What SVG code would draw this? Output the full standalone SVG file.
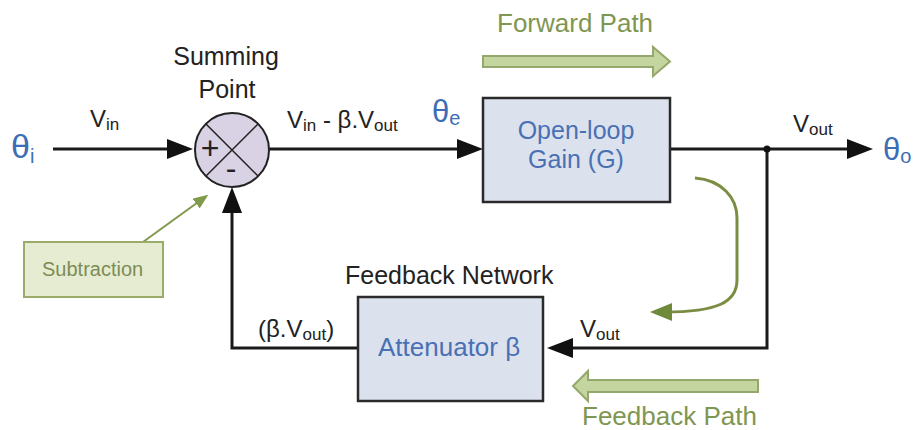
<svg xmlns="http://www.w3.org/2000/svg" width="919" height="430" viewBox="0 0 919 430">
<style>
text{font-family:"Liberation Sans",Arial,sans-serif}
.lbl{fill:#222;font-size:24px}
.sub{font-size:17px}
.theta{fill:#3d6db5;font-size:34px}
.node{fill:#4a70b4;font-size:25px}
.wire{fill:none;stroke:#1a1a1a;stroke-width:3}
.box{fill:#dbe2ee;stroke:#2a2a2a;stroke-width:2.5}
.green{fill:#7f9650;font-size:26px}
.bigarrow{fill:#c4d59f;stroke:#93a86a;stroke-width:2}
</style>
<defs>
<marker id="ah" markerUnits="userSpaceOnUse" markerWidth="27" markerHeight="21" refX="12" refY="10" orient="auto">
<path d="M0,0 L26,10 L0,20 z" fill="#111"/>
</marker>
<marker id="gh" markerUnits="userSpaceOnUse" markerWidth="16" markerHeight="14" refX="6" refY="6" orient="auto">
<path d="M0,0 L15,6 L0,12 z" fill="#7f9a4a"/>
</marker>
<marker id="ch" markerUnits="userSpaceOnUse" markerWidth="24" markerHeight="20" refX="8" refY="9" orient="auto">
<path d="M0,0 L22,9 L0,18 z" fill="#6f8a3a"/>
</marker>
</defs>

<g id="connectors">
<path class="wire" d="M53,149 L179,149" marker-end="url(#ah)"/>
<path class="wire" d="M269,149 L469,149" marker-end="url(#ah)"/>
<path class="wire" d="M670,149 L859,149" marker-end="url(#ah)"/>
<path class="wire" d="M767,149 L767,348 L561,348" marker-end="url(#ah)"/>
<path class="wire" d="M358,348 L232,348 L232,201" marker-end="url(#ah)"/>
<circle cx="767" cy="149" r="3.5" fill="#111"/>
<path d="M143,242 L201,200" fill="none" stroke="#7f9a4a" stroke-width="2" marker-end="url(#gh)"/>
<path d="M695,178 C722,180 737,198 737,218 L737,280 C737,302 718,312 664,312" fill="none" stroke="#7a8d42" stroke-width="3" marker-end="url(#ch)"/>
</g>

<g id="theta-i"><text class="theta" x="11" y="158">θ<tspan style="font-size:20px" dy="5">i</tspan></text></g>
<g id="label-vin"><text class="lbl" x="90" y="127">V<tspan class="sub" dy="3">in</tspan></text></g>

<g id="summing-point">
<text class="lbl" x="226" y="65" text-anchor="middle" style="font-size:25px">Summing</text>
<text class="lbl" x="227" y="98" text-anchor="middle" style="font-size:25px">Point</text>
<circle cx="232" cy="150" r="37" fill="#d9d1e4" stroke="#222" stroke-width="2"/>
<path d="M206,124 L258,176 M258,124 L206,176" stroke="#222" stroke-width="1.5"/>
<text class="lbl" x="210" y="159" text-anchor="middle" style="font-size:32px">+</text>
<text class="lbl" x="231" y="179" text-anchor="middle" style="font-size:32px">-</text>
</g>

<g id="label-error"><text class="lbl" x="287" y="128">V<tspan class="sub" dy="3">in</tspan><tspan dy="-3"> - β.V</tspan><tspan class="sub" dy="3">out</tspan></text></g>
<g id="theta-e"><text class="theta" x="432" y="122" style="font-size:31px">θ<tspan style="font-size:20px" dy="3">e</tspan></text></g>

<g id="open-loop-gain">
<rect class="box" x="483" y="98" width="187" height="104"/>
<text class="node" x="576" y="139" text-anchor="middle">Open-loop</text>
<text class="node" x="576" y="168" text-anchor="middle">Gain (G)</text>
</g>

<g id="label-vout"><text class="lbl" x="793" y="132">V<tspan class="sub" dy="3">out</tspan></text></g>
<g id="theta-o"><text class="theta" x="883" y="160" style="font-size:31px">θ<tspan style="font-size:20px" dy="3">o</tspan></text></g>

<g id="attenuator">
<text class="lbl" x="345" y="284" style="font-size:25px">Feedback Network</text>
<rect class="box" x="358" y="297" width="185" height="104"/>
<text class="node" x="378" y="356" style="font-size:26px">Attenuator β</text>
</g>

<g id="label-bvout"><text class="lbl" x="258" y="337">(β.V<tspan class="sub" dy="3">out</tspan><tspan dy="-3">)</tspan></text></g>
<g id="label-vout-fb"><text class="lbl" x="580" y="337">V<tspan class="sub" dy="3">out</tspan></text></g>

<g id="subtraction">
<rect x="24" y="242" width="139" height="55" fill="#e6ecd2" stroke="#9aab6a" stroke-width="2"/>
<text x="42" y="276" fill="#7d8c55" font-size="20">Subtraction</text>
</g>

<g id="forward-path">
<text class="green" x="497" y="32">Forward Path</text>
<path class="bigarrow" d="M483,56 L653,56 L653,47 L670,61.5 L653,76 L653,67 L483,67 z"/>
</g>

<g id="feedback-path">
<path class="bigarrow" d="M758,380 L588,380 L588,371 L573,386 L588,401 L588,392 L758,392 z"/>
<text class="green" x="582" y="425">Feedback Path</text>
</g>
</svg>
